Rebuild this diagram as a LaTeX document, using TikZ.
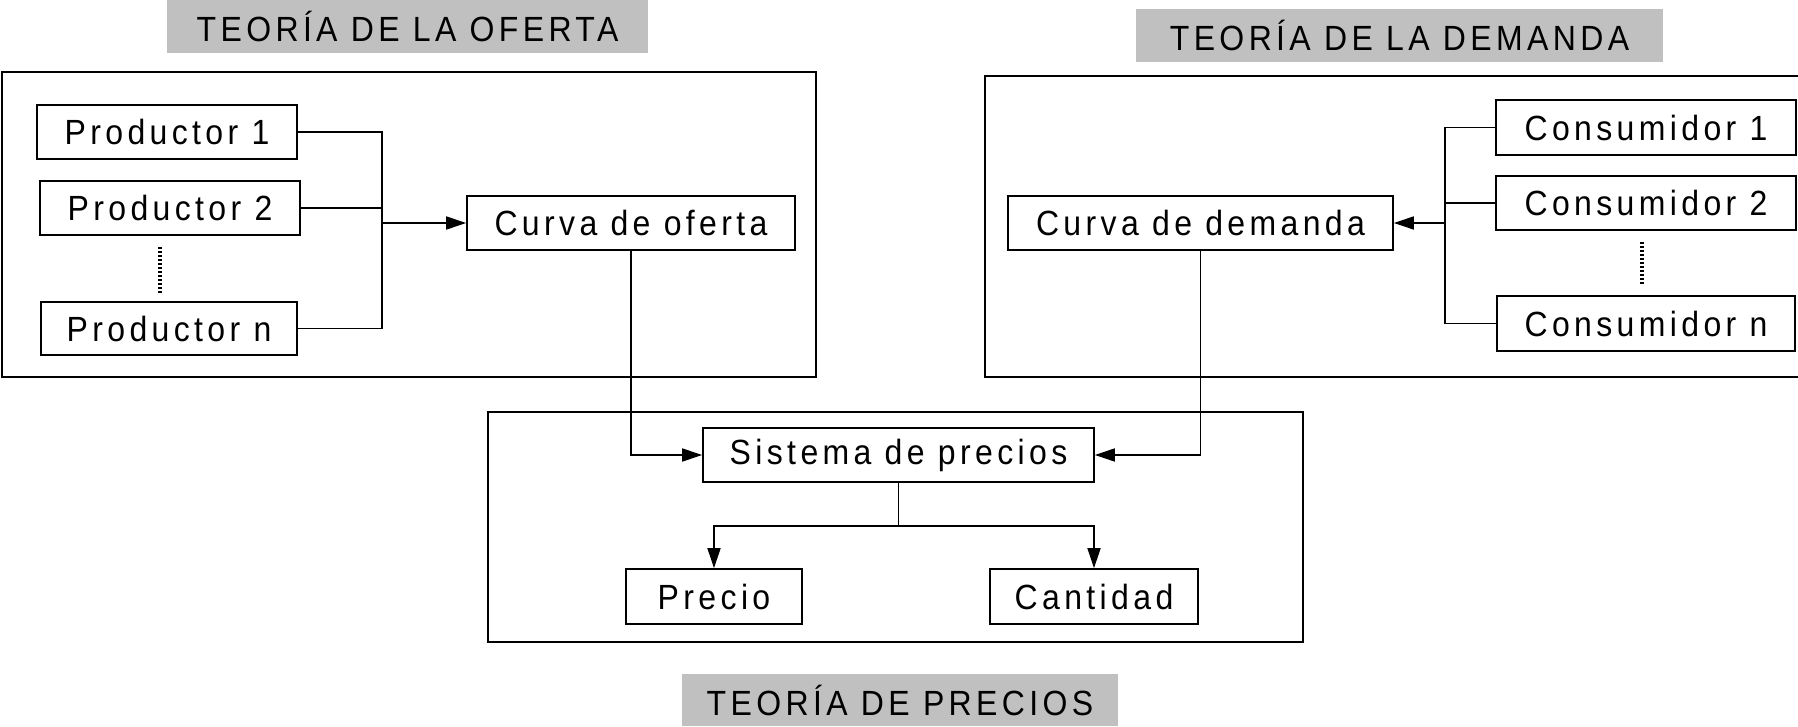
\documentclass[tikz,border=0pt]{standalone}
\usepackage{fontspec}
\setmainfont{Liberation Sans}[LetterSpace=12.5,FakeStretch=0.914]
\usetikzlibrary{arrows.meta}
\definecolor{titlegray}{RGB}{192,192,192}
\begin{document}
\begin{tikzpicture}[x=1pt,y=1pt,
  txt/.style={inner sep=0pt, font=\fontsize{35}{40}\selectfont},
  box/.style={txt, draw, line width=1.6pt},
  title/.style={txt, fill=titlegray},
  frame/.style={line width=1.6pt},
  conn/.style={line width=1.5pt},
  arr/.style={conn, -{Triangle[length=20pt,width=13pt]}},
  dots/.style={line width=3.5pt, dash pattern=on 2.5pt off 1.5pt}]
\useasboundingbox (0,0) rectangle (1798,726);
% titles
\node[title, minimum width=481pt, minimum height=53pt] (tof) at (407.5,699.5) {TEORÍA DE LA OFERTA};
\node[title, minimum width=527pt, minimum height=53pt] (tdem) at (1399.5,690.5) {TEORÍA DE LA DEMANDA};
\node[title, minimum width=436pt, minimum height=52pt] (tpre) at (900,26) {TEORÍA DE PRECIOS};
% frames
\draw[frame] (2,654) rectangle (816,349);
\draw[frame] (985,650) rectangle (1830,349);
\draw[frame] (488,314) rectangle (1303,84);
% supply side
\node[box, minimum width=260pt, minimum height=54pt] (p1) at (167,594) {Productor 1};
\node[box, minimum width=260pt, minimum height=54pt] (p2) at (170,518) {Productor 2};
\node[box, minimum width=256pt, minimum height=53pt] (pn) at (169,397.5) {Productor n};
\coordinate (dL1) at (160,479);
\coordinate (dL2) at (160,431);
\draw[dots] (dL1) -- (dL2);
\node[box, minimum width=328pt, minimum height=54pt] (cof) at (631,503) {Curva de oferta};
\coordinate (jL) at (382,503);
\draw[conn] (p1.east) -| (jL);
\draw[conn] (pn.east) -| (jL);
\draw[conn] (p2.east) -| (jL);
\draw[arr] (jL) -- (cof.west);
% demand side
\node[box, minimum width=385pt, minimum height=54pt] (cdem) at (1200.5,503) {Curva de demanda};
\node[box, minimum width=300pt, minimum height=55pt] (c1) at (1646,598.5) {Consumidor 1};
\node[box, minimum width=300pt, minimum height=54pt] (c2) at (1646,523) {Consumidor 2};
\node[box, minimum width=298pt, minimum height=55pt] (cn) at (1646,402.5) {Consumidor n};
\coordinate (dR1) at (1642,484);
\coordinate (dR2) at (1642,441);
\draw[dots] (dR1) -- (dR2);
\coordinate (jR) at (1445,503);
\draw[conn] (c1.west) -| (jR);
\draw[conn] (c2.west) -| (jR);
\draw[conn] (cn.west) -| (jR);
\draw[arr] (jR) -- (cdem.east);
% price system
\node[box, minimum width=391pt, minimum height=54pt] (sis) at (898.5,271) {Sistema de precios};
\node[box, minimum width=176pt, minimum height=55pt] (pre) at (714,129.5) {Precio};
\node[box, minimum width=208pt, minimum height=55pt] (can) at (1094,129.5) {Cantidad};
\draw[arr] (cof.south) |- (sis.west);
\draw[arr] (cdem.south) |- (sis.east);
\coordinate (b) at (898.5,200);
\draw[conn] (sis.south) -- (b);
\draw[arr] (b) -| (pre.north);
\draw[arr] (b) -| (can.north);
\end{tikzpicture}
\end{document}
